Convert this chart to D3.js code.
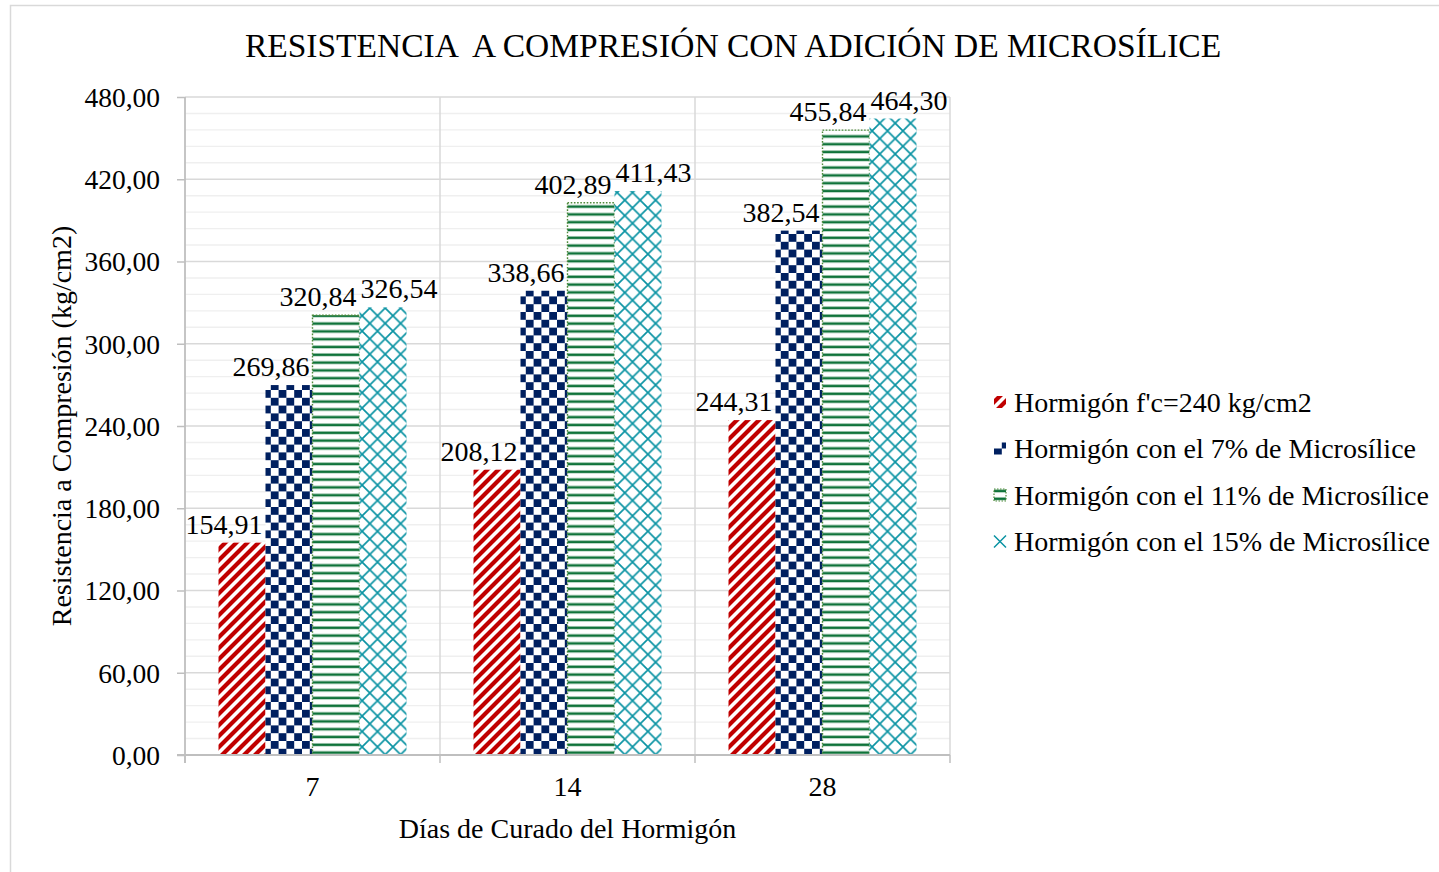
<!DOCTYPE html>
<html>
<head>
<meta charset="utf-8">
<script src="https://cdn.jsdelivr.net/npm/d3@7"></script>
<style>
  html, body { margin: 0; padding: 0; background: #fff; }
  svg { display: block; font-family: "Liberation Serif", "Times New Roman", serif; }
</style>
</head>
<body>
<svg id="chart" width="1439" height="872"></svg>
<script>
// Curing days (categories)
const categories = ["7", "14", "28"];

// Series names (legend)
const seriesNames = [
  "Hormigón f'c=240 kg/cm2",
  "Hormigón con el 7% de Microsílice",
  "Hormigón con el 11% de Microsílice",
  "Hormigón con el 15% de Microsílice"
];

// Compressive strength (kg/cm2) per series, one value per curing age
const base240 = [154.91, 208.12, 244.31];
const micro7 = [269.86, 338.66, 382.54];
const micro11 = [320.84, 402.89, 455.84];
const micro15 = [326.54, 411.43, 464.30];

// Y axis ticks
const yTicks = [0, 60, 120, 180, 240, 300, 360, 420, 480];

const seriesValues = [base240, micro7, micro11, micro15];
const fmt = v => v.toFixed(2).replace(".", ",");
const FS = 28;

const svg = d3.select("#chart");
const defs = svg.append("defs");

// ---- fill patterns ----
// red wide upward diagonal
const rp = 11;
const pRed = defs.append("pattern").attr("id", "pRed")
  .attr("patternUnits", "userSpaceOnUse").attr("width", rp).attr("height", rp);
pRed.append("rect").attr("width", rp).attr("height", rp).attr("fill", "#fff");
pRed.append("path")
  .attr("d", `M-2,${rp + 2} L${rp + 2},-2 M${-rp / 2 - 2},${rp / 2 + 2} L${rp / 2 + 2},${-rp / 2 - 2} M${rp / 2 - 2},${rp * 1.5 + 2} L${rp * 1.5 + 2},${rp / 2 - 2}`)
  .attr("stroke", "#c00000").attr("stroke-width", 0);
pRed.append("path")
  .attr("d", `M-3,${rp + 3} L${rp + 3},-3 M-3,3 L3,-3 M${rp - 3},${rp + 3} L${rp + 3},${rp - 3}`)
  .attr("stroke", "#c00000").attr("stroke-width", 4.2);

// navy large checkerboard
const pBlue = defs.append("pattern").attr("id", "pBlue")
  .attr("patternUnits", "userSpaceOnUse").attr("width", 15.6).attr("height", 15.6);
pBlue.append("rect").attr("width", 15.6).attr("height", 15.6).attr("fill", "#fff");
pBlue.append("rect").attr("width", 7.8).attr("height", 7.8).attr("fill", "#002060");
pBlue.append("rect").attr("x", 7.8).attr("y", 7.8).attr("width", 7.8).attr("height", 7.8).attr("fill", "#002060");

// green horizontal lines
const pGreen = defs.append("pattern").attr("id", "pGreen")
  .attr("patternUnits", "userSpaceOnUse").attr("width", 8).attr("height", 7.8);
pGreen.append("rect").attr("width", 8).attr("height", 7.8).attr("fill", "#fff");
pGreen.append("rect").attr("y", 2.5).attr("width", 8).attr("height", 2.6).attr("fill", "#0f733a");

// teal diagonal lattice
const pTeal = defs.append("pattern").attr("id", "pTeal")
  .attr("patternUnits", "userSpaceOnUse").attr("width", 15.4).attr("height", 15.4);
pTeal.append("rect").attr("width", 15.4).attr("height", 15.4).attr("fill", "#fff");
pTeal.append("path").attr("d", "M0,0 L15.4,15.4 M15.4,0 L0,15.4")
  .attr("stroke", "#0a93a3").attr("stroke-width", 1.7);

const fills = ["url(#pRed)", "url(#pBlue)", "url(#pGreen)", "url(#pTeal)"];

// ---- chart frame ----
svg.append("rect").attr("x", 10.5).attr("y", 5.5).attr("width", 1440).attr("height", 880)
  .attr("fill", "#fff").attr("stroke", "#d9d9d9").attr("stroke-width", 1.5);

// ---- scales ----
const plot = { left: 185, right: 950, top: 97, bottom: 755 };
const y = d3.scaleLinear().domain([0, 480]).range([plot.bottom, plot.top]);
const x0 = d3.scaleBand().domain(categories).range([plot.left, plot.right]);
const x1 = d3.scaleBand().domain(d3.range(seriesNames.length))
  .range([0, x0.bandwidth()]).paddingInner(0).paddingOuter(0.713);

// ---- gridlines ----
const minorTicks = d3.range(0, 481, 12).filter(v => v % 60 !== 0);
svg.append("g").selectAll("line").data(minorTicks).join("line")
  .attr("x1", plot.left).attr("x2", plot.right)
  .attr("y1", d => y(d)).attr("y2", d => y(d))
  .attr("stroke", "#efefef").attr("stroke-width", 1.4);
svg.append("g").selectAll("line").data(yTicks.filter(v => v > 0)).join("line")
  .attr("x1", plot.left).attr("x2", plot.right)
  .attr("y1", d => y(d)).attr("y2", d => y(d))
  .attr("stroke", "#d9d9d9").attr("stroke-width", 1.5);
const bounds = categories.map(c => x0(c) + x0.bandwidth());
svg.append("g").selectAll("line").data(bounds).join("line")
  .attr("x1", d => d).attr("x2", d => d)
  .attr("y1", plot.top).attr("y2", plot.bottom)
  .attr("stroke", "#d9d9d9").attr("stroke-width", 1.5);

// ---- bars ----
const groups = svg.append("g").selectAll("g").data(categories).join("g")
  .attr("transform", c => `translate(${x0(c)},0)`);
groups.each(function (c, ci) {
  const g = d3.select(this);
  seriesValues.forEach((vals, si) => {
    const v = vals[ci];
    const r = g.append("rect")
      .attr("x", x1(si)).attr("width", x1.bandwidth())
      .attr("y", y(v)).attr("height", y(0) - y(v))
      .attr("fill", fills[si]);
    if (si === 2) {
      r.attr("stroke", "#4f8a3a").attr("stroke-width", 1.4).attr("stroke-dasharray", "1.6,1.6");
    }
  });
});

// ---- axes ----
const yAxis = svg.append("g").attr("transform", `translate(${plot.left},0)`)
  .call(d3.axisLeft(y).tickValues(yTicks).tickFormat(fmt).tickSize(8).tickPadding(17));
yAxis.select(".domain").attr("stroke", "#bfbfbf").attr("stroke-width", 1.8)
  .attr("d", `M0,${plot.top}V${plot.bottom + 8}`);
yAxis.selectAll(".tick line").attr("stroke", "#bfbfbf").attr("stroke-width", 1.5);
yAxis.selectAll(".tick text").attr("font-size", 27.5).attr("fill", "#000")
  .attr("font-family", "Liberation Serif").attr("dy", "0.34em");

const xAxis = svg.append("g").attr("transform", `translate(0,${plot.bottom})`)
  .call(d3.axisBottom(x0).tickSize(0).tickPadding(21));
xAxis.select(".domain").attr("stroke", "#bfbfbf").attr("stroke-width", 1.8)
  .attr("d", `M${plot.left - 8},0H${plot.right}`);
xAxis.selectAll(".tick text").attr("font-size", FS).attr("fill", "#000")
  .attr("font-family", "Liberation Serif");
svg.append("g").selectAll("line").data([plot.left].concat(bounds)).join("line")
  .attr("x1", d => d).attr("x2", d => d)
  .attr("y1", plot.bottom).attr("y2", plot.bottom + 8)
  .attr("stroke", "#bfbfbf").attr("stroke-width", 1.5);

// ---- data labels ----
groups.each(function (c, ci) {
  const g = d3.select(this);
  seriesValues.forEach((vals, si) => {
    const v = vals[ci];
    const last = si === seriesValues.length - 1;
    g.append("text")
      .attr("x", last ? x1(si) + 1 : x1(si) + x1.bandwidth() - 3)
      .attr("y", y(v) - 9)
      .attr("text-anchor", last ? "start" : "end")
      .attr("font-size", FS).attr("fill", "#000")
      .text(fmt(v));
  });
});

// ---- titles ----
svg.append("text").attr("x", 733).attr("y", 57).attr("text-anchor", "middle")
  .attr("font-size", 33.5).attr("fill", "#000")
  .text("RESISTENCIA  A COMPRESIÓN CON ADICIÓN DE MICROSÍLICE")
  .style("white-space", "pre");
svg.append("text").attr("x", (plot.left + plot.right) / 2).attr("y", 838)
  .attr("text-anchor", "middle").attr("font-size", FS).attr("fill", "#000")
  .text("Días de Curado del Hormigón");
svg.append("text")
  .attr("transform", `translate(71,${(plot.top + plot.bottom) / 2}) rotate(-90)`)
  .attr("text-anchor", "middle").attr("font-size", FS).attr("fill", "#000")
  .text("Resistencia a Compresión (kg/cm2)");

// ---- legend ----
const legend = svg.append("g").selectAll("g").data(seriesNames).join("g")
  .attr("transform", (d, i) => `translate(994,${402 + i * 46.5})`);
legend.each(function (d, i) {
  const g = d3.select(this);
  if (i === 3) {
    g.append("path").attr("d", "M0,-6 L12,6 M12,-6 L0,6")
      .attr("stroke", "#0a93a3").attr("stroke-width", 1.5).attr("fill", "none");
  } else {
    g.append("rect").attr("x", 0).attr("y", -6).attr("width", 12).attr("height", 12)
      .attr("fill", fills[i])
      .attr("stroke", i === 2 ? "#4f8a3a" : "none")
      .attr("stroke-width", 1.2).attr("stroke-dasharray", "1.5,1.5");
  }
});
legend.append("text").attr("x", 20).attr("y", 0).attr("dy", "0.34em")
  .attr("font-size", FS).attr("fill", "#000")
  .text(d => d);
</script>
</body>
</html>
